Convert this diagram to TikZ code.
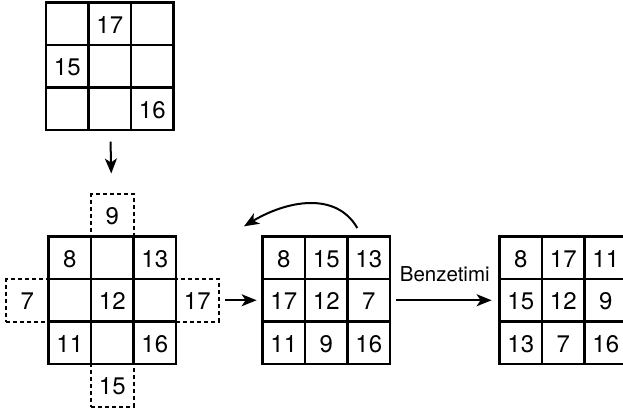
\documentclass[tikz,border=0pt]{standalone}
\usepackage{fontspec}
\setmainfont{TeX Gyre Heros}
\usetikzlibrary{arrows.meta}

\begin{document}
\begin{tikzpicture}[x=1pt, y=-1pt,
	cell/.style={draw, line width=2.2pt, minimum size=42.5pt, inner sep=0pt, text height=19pt, text depth=0pt, font=\fontsize{24}{28}\selectfont},
	spare/.style={cell, line width=2pt, dash pattern=on 4pt off 3pt},
	arr/.style={line width=2pt, -{Stealth[length=15pt, width=12pt, inset=4pt]}}]
	\useasboundingbox (0, 0) rectangle (623, 408);
	\clip (0, 0) rectangle (623, 408);

	% starting grid
	\foreach \lab [count=\k from 0] in {{},17,{},15,{},{},{},{},16}
		\node[cell] (s\k) at ({67.25+42.5*mod(\k,3)}, {23.75+42.5*floor(\k/3)}) {\lab};

	% neighbours around the centre
	\node[spare] (up) at (112.25, 215.25) {9};
	\node[spare] (down) at (112.25, 385.25) {15};
	\node[spare] (lft) at (27.25, 300.25) {7};
	\node[spare] (rgt) at (197.25, 300.25) {17};
	\foreach \lab [count=\k from 0] in {8,{},13,{},12,{},11,{},16}
		\node[cell] (g\k) at ({69.75+42.5*mod(\k,3)}, {257.75+42.5*floor(\k/3)}) {\lab};

	% filled in
	\foreach \lab [count=\k from 0] in {8,15,13,17,12,7,11,9,16}
		\node[cell] (m\k) at ({283.75+42.5*mod(\k,3)}, {257.75+42.5*floor(\k/3)}) {\lab};

	% after simulation
	\foreach \lab [count=\k from 0] in {8,17,11,15,12,9,13,7,16}
		\node[cell] (r\k) at ({520.75+42.5*mod(\k,3)}, {257.75+42.5*floor(\k/3)}) {\lab};

	\coordinate (turnA) at (357.3, 228);
	\coordinate (turnB) at (244, 226.3);

	\draw[arr, shorten <=10.5pt, shorten >=19.5pt] (s7) -- (up);
	\draw[arr, shorten <=5.4pt, shorten >=4.8pt] (rgt) -- (m3);
	\draw[arr, shorten <=4.6pt, shorten >=6.8pt] (m5) -- (r3) node[midway, above=17.5pt, font=\fontsize{20.5}{24}\selectfont, inner sep=0pt] {Benzetimi};
	\draw[arr] (turnA) .. controls (335.7, 190.6) and (285.9, 201.1) .. (turnB);
\end{tikzpicture}
\end{document}
